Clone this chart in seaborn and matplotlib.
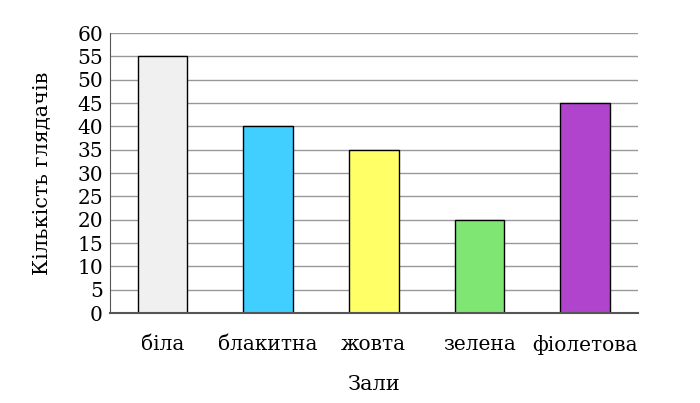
import seaborn as sns
import matplotlib.pyplot as plt
import pandas as pd

zaly = ['біла', 'блакитна', 'жовта', 'зелена', 'фіолетова']
hliadachi = [55, 40, 35, 20, 45]
kolory = ['#f0f0f0', '#40cfff', '#ffff66', '#80e673', '#b044cc']
y_ticks = list(range(0, 65, 5))

sns.set_style('white')
plt.rcParams['font.family'] = ['DejaVu Serif']
plt.rcParams['text.color'] = 'black'
plt.rcParams['axes.labelcolor'] = 'black'
plt.rcParams['xtick.color'] = 'black'
plt.rcParams['ytick.color'] = 'black'

df = pd.DataFrame({'zal': zaly, 'n': hliadachi})

fig = plt.figure(figsize=(7, 4.03), dpi=100)
ax = fig.add_axes([0.157, 0.223, 0.754, 0.695])
ax.set_axisbelow(True)
sns.barplot(data=df, x='zal', y='n', hue='zal', palette=kolory, legend=False,
            saturation=1, width=0.47, edgecolor='black', linewidth=1, ax=ax)
ax.set_ylim(0, 60)
ax.set_xlim(-0.5, 4.5)
ax.set_yticks(y_ticks)
ax.yaxis.grid(True, color='#999999', linewidth=1)
ax.tick_params(axis='y', length=0, pad=5, labelsize=14.5)
ax.tick_params(axis='x', length=0, pad=16, labelsize=14.5)
for s in ['top', 'right']:
    ax.spines[s].set_visible(False)
ax.spines['left'].set_color('#555555')
ax.spines['bottom'].set_color('#555555')
ax.spines['bottom'].set_linewidth(1.5)
ax.set_xlabel('Зали', fontsize=15, labelpad=14)
ax.set_ylabel('Кількість глядачів', fontsize=15, labelpad=18)
fig.savefig('out.png', dpi=100)
